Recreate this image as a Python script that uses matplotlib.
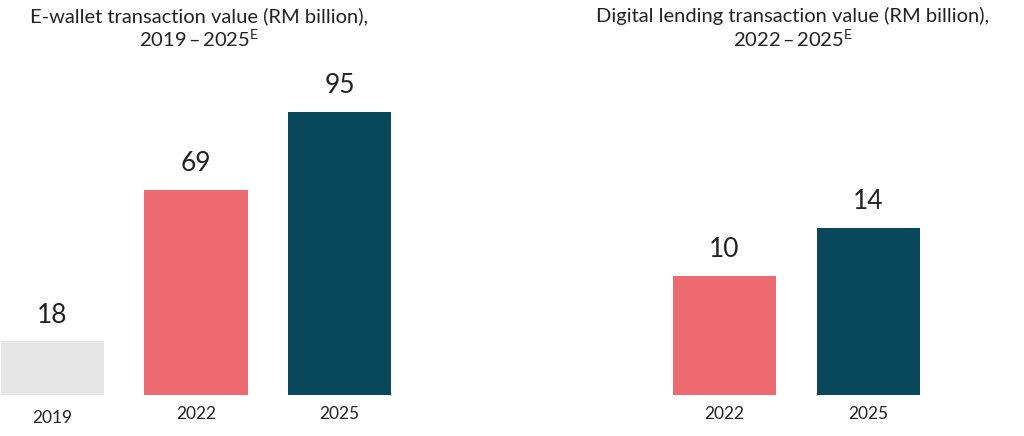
import matplotlib
matplotlib.use('Agg')
import matplotlib.pyplot as plt

plt.rcParams['font.family'] = ['Lato', 'DejaVu Sans']
plt.rcParams['mathtext.fontset'] = 'custom'
plt.rcParams['mathtext.rm'] = 'Lato'

# ---- data ----
ewallet_years = ['2019', '2022', '2025']
ewallet_values = [18, 69, 95]
lending_years = ['2022', '2025']
lending_values = [10, 14]

grey = '#E6E6E6'
coral = '#EC6A70'
teal = '#08485A'
ewallet_colors = [grey, coral, teal]
lending_colors = [coral, teal]
text_col = '#222222'

W, H = 1024, 436
fig = plt.figure(figsize=(W / 100, H / 100), dpi=100)

base = 41 / H
ax_h = 335 / H

# left panel
ax1 = fig.add_axes([0, base, 420 / W, ax_h])
x1 = range(len(ewallet_values))
ax1.bar(x1, ewallet_values, width=0.72, color=ewallet_colors)
ax1.set_xlim(-0.366, 2.561)
ax1.set_ylim(0, 112.5)
for x, v in zip(x1, ewallet_values):
    ax1.annotate(str(v), (x, v), xytext=(0, 10), textcoords='offset points',
                 ha='center', va='bottom', fontsize=19, color=text_col)
for x, lab in zip(x1, ewallet_years):
    dy = -11 if lab == '2019' else -8
    ax1.annotate(lab, (x, 0), xytext=(0, dy), textcoords='offset points',
                 ha='center', va='top', fontsize=12.5, color=text_col)

# right panel
ax2 = fig.add_axes([600 / W, base, 424 / W, ax_h])
x2 = range(len(lending_values))
ax2.bar(x2, lending_values, width=0.72, color=lending_colors)
ax2.set_xlim(-0.865, 2.08)
ax2.set_ylim(0, 28.1)
for x, v in zip(x2, lending_values):
    ax2.annotate(str(v), (x, v), xytext=(0, 10), textcoords='offset points',
                 ha='center', va='bottom', fontsize=19, color=text_col)
for x, lab in zip(x2, lending_years):
    ax2.annotate(lab, (x, 0), xytext=(0, -8), textcoords='offset points',
                 ha='center', va='top', fontsize=12.5, color=text_col)

for ax in (ax1, ax2):
    ax.axis('off')

sup = '$^{\\mathrm{E}}$'
fig.text(199 / W, 1 - 7 / H,
         'E-wallet transaction value (RM billion),\n2019\u2009\u2013\u20092025' + sup,
         ha='center', va='top', fontsize=14.5, color=text_col, linespacing=1.15)
fig.text(793 / W, 1 - 7 / H,
         'Digital lending transaction value (RM billion),\n2022\u2009\u2013\u20092025' + sup,
         ha='center', va='top', fontsize=14.5, color=text_col, linespacing=1.15)

fig.savefig('out.png', dpi=100, facecolor='white')
